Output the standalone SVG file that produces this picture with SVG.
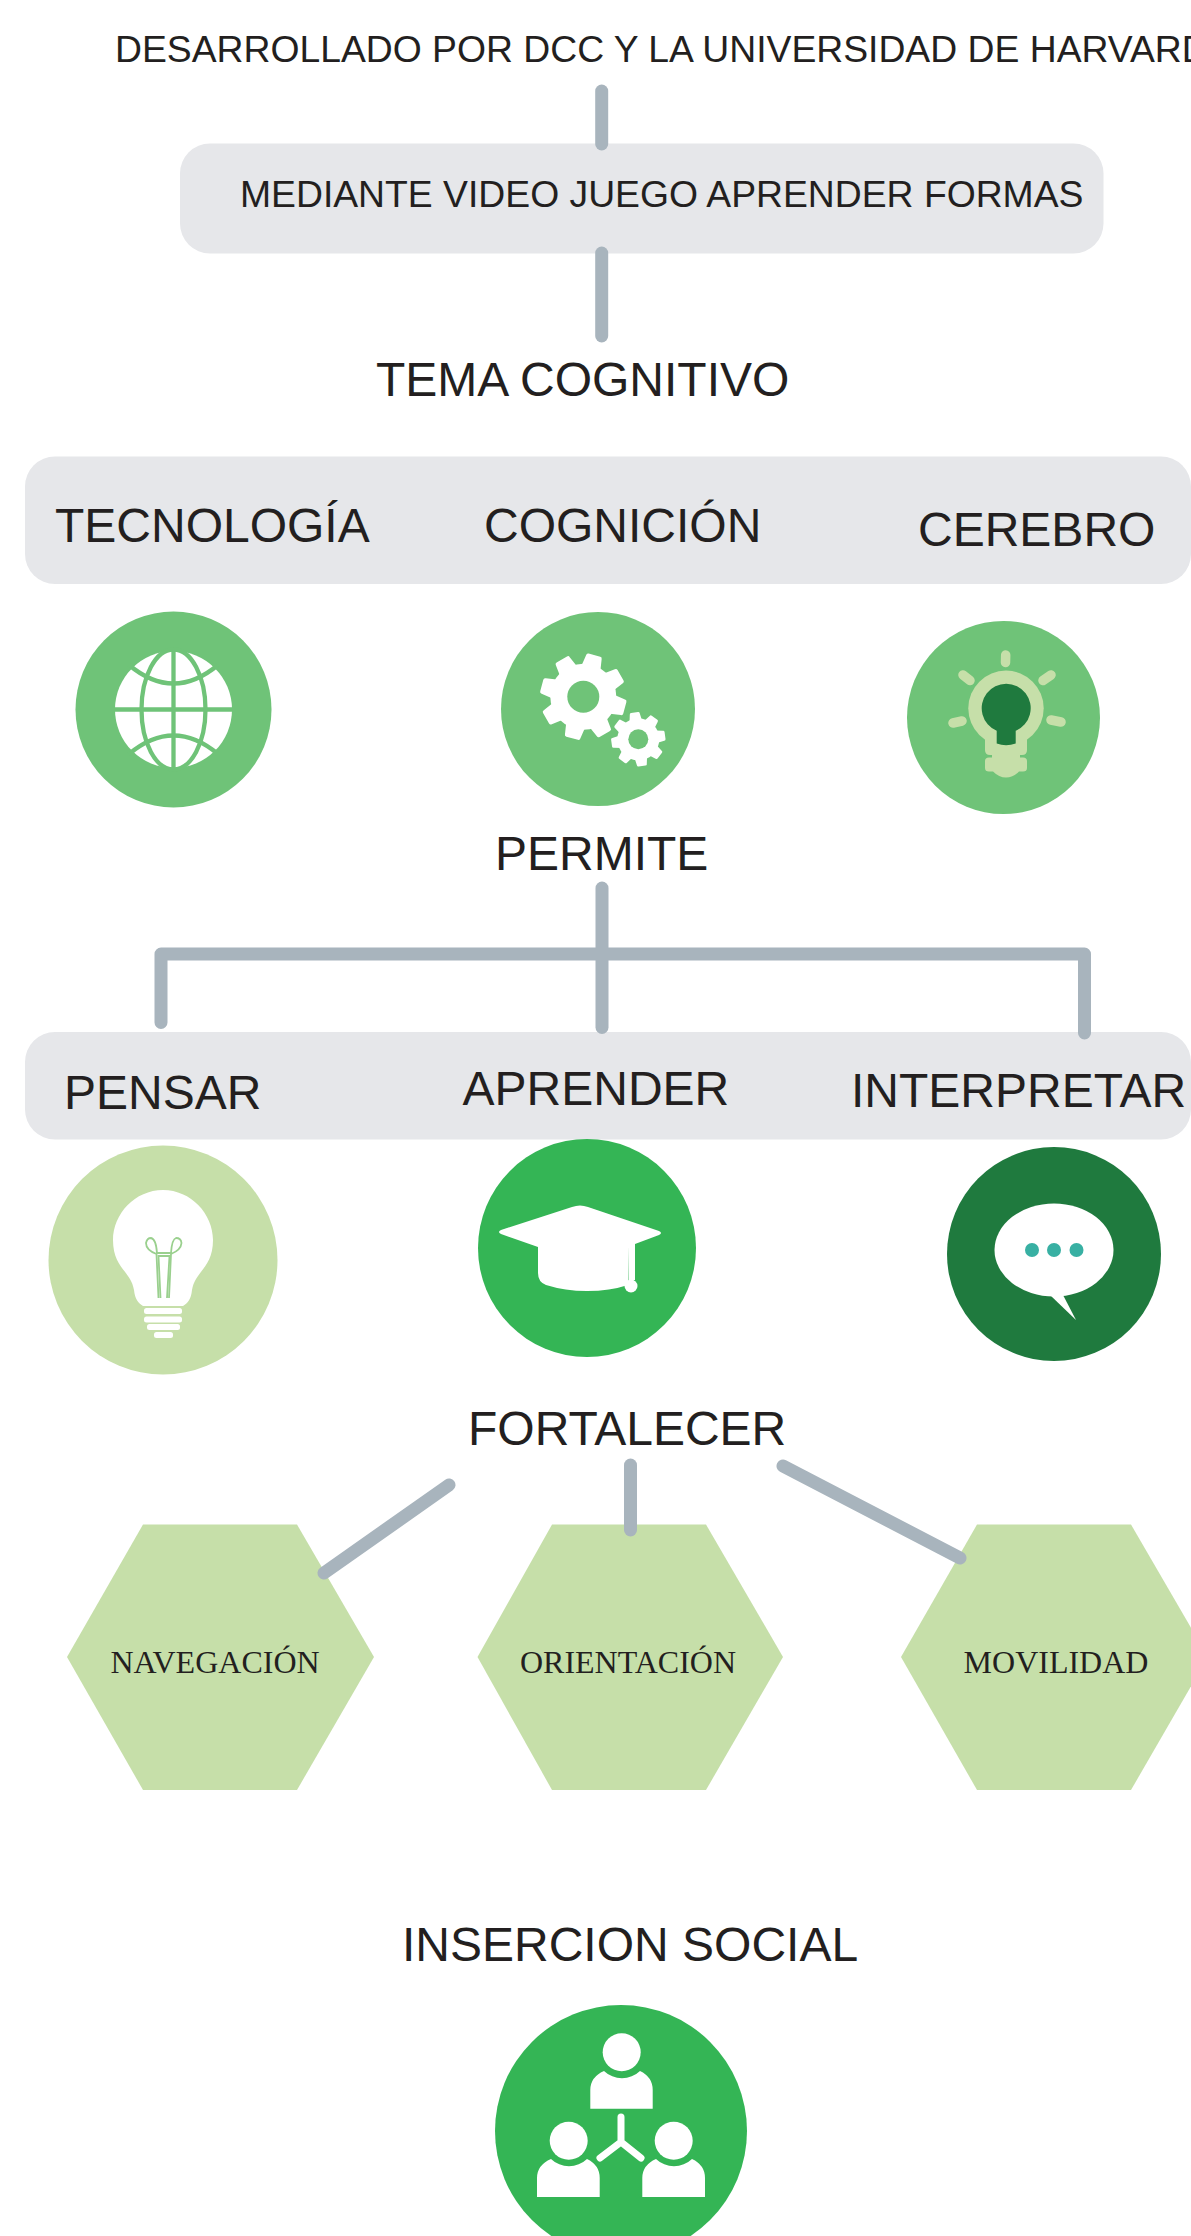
<svg xmlns="http://www.w3.org/2000/svg" width="1191" height="2236" viewBox="0 0 1191 2236">
<defs>
<path id="tb" d="M-10 -28L-8 -41Q-8 -43 -6 -43L6 -43Q8 -43 8 -41L10 -28Z" fill="#fff"/>
<path id="ts" d="M-6.500 -17L-5 -25.500Q-5 -27 -3.500 -27L3.500 -27Q5 -27 5 -25.500L6.500 -17Z" fill="#fff"/>
</defs>
<style>
text{font-family:"Liberation Sans",Arial,sans-serif;fill:#231f20}
.bar{fill:#e6e7ea}
.t{font-size:48px}
.m{font-size:37.300px}
.h{font-family:"Liberation Serif","Times New Roman",serif;font-size:32px;text-anchor:middle}
.c{fill:none;stroke:#a8b4bd;stroke-width:13;stroke-linecap:round;stroke-linejoin:round}
.hex{fill:#c6dfa9}
.w{fill:#fff}
</style>
<rect width="1191" height="2236" fill="#fff"/>
<g id="bars">
<rect class="bar" x="180" y="143.500" width="923.500" height="110" rx="30"/>
<rect class="bar" x="25" y="456.500" width="1166" height="127.500" rx="30"/>
<rect class="bar" x="25" y="1032" width="1166" height="107.500" rx="30"/>
</g>
<g id="n-desarrollado"><text class="m" x="115" y="61.500">DESARROLLADO POR DCC Y LA UNIVERSIDAD DE HARVARD</text></g>
<g id="n-mediante"><text class="m" x="240" y="207">MEDIANTE VIDEO JUEGO APRENDER FORMAS</text></g>
<g id="n-tema"><text class="t" x="376" y="395.500">TEMA COGNITIVO</text></g>
<g id="n-tecnologia"><text class="t" x="55" y="541.500">TECNOLOGÍA</text></g>
<g id="n-cognicion"><text class="t" x="484" y="541.500">COGNICIÓN</text></g>
<g id="n-cerebro"><text class="t" x="918" y="545.500">CEREBRO</text></g>
<g id="n-permite"><text class="t" x="495" y="869.500">PERMITE</text></g>
<g id="n-pensar"><text class="t" x="64" y="1108.500">PENSAR</text></g>
<g id="n-aprender"><text class="t" x="462.500" y="1105">APRENDER</text></g>
<g id="n-interpretar"><text class="t" x="851" y="1107">INTERPRETAR</text></g>
<g id="n-fortalecer"><text class="t" x="468" y="1445">FORTALECER</text></g>
<g id="n-insercion"><text class="t" x="402" y="1961">INSERCION SOCIAL</text></g>

<g id="icon-globe">
<circle cx="173.500" cy="709.500" r="98" fill="#6fc378"/>
<circle cx="173.500" cy="709.500" r="58.500" class="w"/>
<g fill="none" stroke="#6fc378" stroke-width="4.300">
<path d="M114 709.500H233M173.500 650V769"/>
<ellipse cx="173.500" cy="709.500" rx="32" ry="60"/>
<path d="M129 665Q173.500 702 218 665M129 754Q173.500 717 218 754"/>
</g>
</g>
<g id="icon-gears">
<circle cx="598" cy="709" r="97" fill="#6fc378"/>
<g transform="translate(583.300 696.700)">
<circle r="33" class="w"/>
<use href="#tb" transform="rotate(15)"/><use href="#tb" transform="rotate(60)"/><use href="#tb" transform="rotate(105)"/><use href="#tb" transform="rotate(150)"/><use href="#tb" transform="rotate(195)"/><use href="#tb" transform="rotate(240)"/><use href="#tb" transform="rotate(285)"/><use href="#tb" transform="rotate(330)"/>
<circle r="16" fill="#6fc378"/>
</g>
<g transform="translate(638.300 739.300)">
<circle r="21" class="w"/>
<use href="#ts" transform="rotate(-8)"/><use href="#ts" transform="rotate(37)"/><use href="#ts" transform="rotate(82)"/><use href="#ts" transform="rotate(127)"/><use href="#ts" transform="rotate(172)"/><use href="#ts" transform="rotate(217)"/><use href="#ts" transform="rotate(262)"/><use href="#ts" transform="rotate(307)"/>
<circle r="10" fill="#6fc378"/>
</g>
</g>
<g id="icon-idea">
<circle cx="1003.500" cy="717.500" r="96.500" fill="#6fc378"/>
<circle cx="1006" cy="708.300" r="37.700" fill="#c6dfa9"/>
<path d="M985 725H1027V750Q1027 755 1022 755H990Q985 755 985 750Z" fill="#c6dfa9"/>
<rect x="992" y="750" width="28" height="12" fill="#c6dfa9"/>
<path d="M989 757.500H1023Q1027 757.500 1027 761V768Q1027 771.500 1023 771.500H1019Q1013 777.500 1006 777.500Q999 777.500 993 771.500H989Q985 771.500 985 768V761Q985 757.500 989 757.500Z" fill="#c6dfa9"/>
<path d="M996.700 730.800A24.500 24.500 0 1 1 1015.700 730.800V743.500Q1006 747 996.700 743.500Z" fill="#1f7a3e"/>
<path d="M1005.700 655L1005.500 662.500M963 675L970 680.500M1051 675L1043 680.500M953 723L962 721M1061 722L1051 720" fill="none" stroke="#c6dfa9" stroke-width="9.500" stroke-linecap="round"/>
</g>
<g id="icon-bulb">
<circle cx="163" cy="1260" r="114.500" fill="#c6dfa9"/>
<path d="M163 1190C191 1190 213 1214 213 1240C213 1268 195 1271 192 1290C191 1299 188 1303 183 1306H143C138 1303 135 1299 134 1290C131 1271 113 1268 113 1240C113 1214 135 1190 163 1190Z" class="w"/>
<g fill="none" stroke="#9ad08e" stroke-width="1.800">
<path d="M158.500 1298L156.500 1254Q146 1250 146 1243Q147 1238 151 1238Q156 1239 157 1253H171Q172 1239 176 1238Q181 1238 181.500 1243Q181 1250 171 1254L169 1298"/>
<path d="M160.500 1298L158.500 1256H169.500L167 1298"/>
</g>
<rect class="w" x="144" y="1308" width="38" height="6" rx="2.500"/>
<rect class="w" x="144" y="1316.500" width="38" height="6" rx="2.500"/>
<rect class="w" x="147" y="1324" width="33" height="6" rx="2.500"/>
<rect class="w" x="154" y="1332" width="19" height="6" rx="2.500"/>
</g>
<g id="icon-cap">
<circle cx="587" cy="1248" r="109" fill="#34b555"/>
<path d="M572 1207Q580 1204 588 1207L659 1231Q663 1233 659 1235L635 1244V1280H628.500V1246L628 1285Q610 1291 587 1291Q565 1291 546 1285Q538 1282 538 1273V1247L501 1234Q497 1232 501 1230Z" class="w"/>
<circle cx="631" cy="1286" r="6.500" class="w"/>
</g>
<g id="icon-speech">
<circle cx="1054" cy="1254" r="107" fill="#1f7a3e"/>
<ellipse cx="1054" cy="1250" rx="59.500" ry="46.500" class="w"/>
<path d="M1050 1295L1076 1320L1063 1295Z" class="w"/>
<circle cx="1032" cy="1250" r="7" fill="#38b0a3"/>
<circle cx="1054" cy="1250" r="7" fill="#38b0a3"/>
<circle cx="1076.500" cy="1250" r="7" fill="#38b0a3"/>
</g>
<g id="n-navegacion"><path class="hex" d="M143 1524.500H297L374 1657L297 1790H143L67 1657Z"/><text class="h" x="215" y="1672.500">NAVEGACIÓN</text></g>
<g id="n-orientacion"><path class="hex" d="M552 1524.500H706L783 1657L706 1790H552L477.500 1657Z"/><text class="h" x="628" y="1672.500">ORIENTACIÓN</text></g>
<g id="n-movilidad"><path class="hex" d="M977 1524.500H1131L1208 1657L1131 1790H977L901 1657Z"/><text class="h" x="1056" y="1672.500">MOVILIDAD</text></g>
<g id="icon-people">
<circle cx="621" cy="2131" r="126" fill="#34b555"/>
<circle cx="621.700" cy="2052.300" r="19" class="w"/>
<path d="M590.300 2108.700V2090Q590.300 2077 604 2071A26 26 0 0 0 640 2071Q652.700 2077 652.700 2090V2108.700Z" class="w"/>
<circle cx="568.700" cy="2140.700" r="19" class="w"/>
<path d="M537 2197V2178Q537 2165 551 2159A26 26 0 0 0 587 2159Q599.700 2165 599.700 2178V2197Z" class="w"/>
<circle cx="673.700" cy="2140.700" r="19" class="w"/>
<path d="M642.300 2197V2178Q642.300 2165 656 2159A26 26 0 0 0 692 2159Q705 2165 705 2178V2197Z" class="w"/>
<path d="M621 2117V2142L600 2158M621 2142L641 2158" fill="none" stroke="#fff" stroke-width="7" stroke-linecap="round" stroke-linejoin="round"/>
</g>
<g id="connectors">
<path class="c" d="M601.700 91V144"/>
<path class="c" d="M601.700 253V336"/>
<path class="c" d="M602 888V1027.500"/>
<path class="c" d="M161 1022.500V954H1084.500V1033"/>
<path class="c" d="M449 1485L324 1573"/>
<path class="c" d="M630.500 1465V1530"/>
<path class="c" d="M783 1466L960 1558"/>
</g>
</svg>
